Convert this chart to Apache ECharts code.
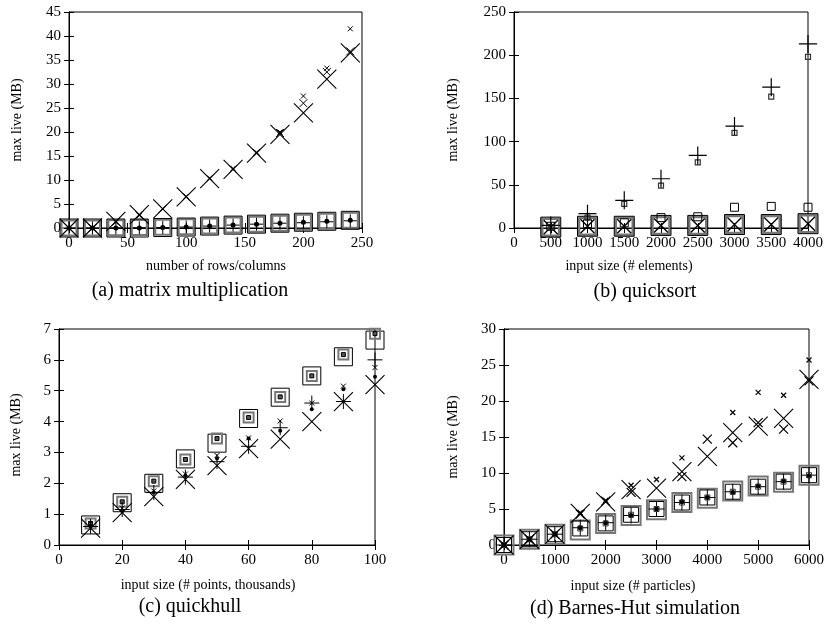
<!DOCTYPE html>
<html>
<head>
<meta charset="utf-8">
<script src="https://cdn.jsdelivr.net/npm/echarts@6/dist/echarts.min.js"></script>
<style>
  html, body { margin: 0; padding: 0; background: #fff; }
  #main { width: 827px; height: 626px; }
</style>
</head>
<body>
<div id="main"></div>
<script>
// (a) matrix multiplication
const aX = [0, 20, 40, 60, 80, 100, 120, 140, 160, 180, 200, 220, 240];
const aBigX = [0, 0, 1.4, 2.8, 4.0, 6.5, 10.3, 12.2, 15.6, 19.5, 24, 31, 36.5];
const aSmallX1 = [0, 0, 1.2, 2.6, 4.0, 6.6, 10.4, 12.4, 15.8, 20, 27.5, 33.3, 41.5];
const aSmallX2 = [0, 0, 1.3, 2.7, 4.0, 6.5, 10.3, 12.3, 15.7, 19.8, 26, 32.5, 36.8];
const aSquare = [0, 0, 0, 0, 0.1, 0.2, 0.4, 0.6, 0.8, 1.0, 1.2, 1.4, 1.6];
const aGraySq = [0, 0, 0.05, 0.1, 0.15, 0.25, 0.4, 0.6, 0.8, 1.0, 1.2, 1.4, 1.6];
const aPlus = [0, 0, 0, 0.05, 0.1, 0.2, 0.4, 0.6, 0.8, 1.0, 1.1, 1.3, 1.5];

// (b) quicksort
const bX = [500, 1000, 1500, 2000, 2500, 3000, 3500, 4000];
const bPlus = [3, 16.6, 32, 57, 84, 118, 163, 213];
const bSmallSq = [1, 12, 28, 49, 76, 110, 152, 198];
const bOpenSq = [2, 5, 6, 12, 13, 24, 25, 24];
const bBigSq = [1, 2, 2, 3, 3, 4, 4, 5];
const bGraySq = [1, 2, 2, 3, 3, 4, 4, 5];
const bBigX = [1, 2, 2, 3, 3, 4, 4, 5];

// (c) quickhull
const cX = [10, 20, 30, 40, 50, 60, 70, 80, 90, 100];
const cBigSq = [0.65, 1.37, 2.0, 2.79, 3.3, 4.1, 4.79, 5.48, 6.1, 6.64];
const cGraySq = [0.7, 1.4, 2.07, 2.77, 3.45, 4.13, 4.8, 5.48, 6.17, 6.85];
const cBigX = [0.55, 1.05, 1.57, 2.13, 2.57, 3.12, 3.43, 4.0, 4.65, 5.2];
const cPlus = [0.6, 1.15, 1.7, 2.2, 2.7, 3.2, 3.8, 4.6, 4.65, 6.0];
const cSmallX = [0.7, 1.2, 1.75, 2.3, 2.9, 3.47, 4.02, 4.6, 5.15, 5.75];
const cDot = [0.6, 1.1, 1.7, 2.25, 2.8, 3.45, 3.7, 4.4, 5.05, 5.45];

// (d) Barnes-Hut simulation
const dX = [0, 500, 1000, 1500, 2000, 2500, 3000, 3500, 4000, 4500, 5000, 5500, 6000];
const dBigX = [0, 0.8, 1.5, 4.4, 6.0, 7.7, 7.9, 10.2, 12.3, 15.6, 16.5, 17.6, 23];
const dMidX = [0, 0.8, 1.5, 4.3, 6.1, 7.3, null, 9.5, 14.7, 14.2, 17, 16.1, 22.8];
const dSmallX = [0, 0.8, 1.5, 4.5, 6.2, 8.3, 9.1, 12.1, null, 18.4, 21.2, 20.8, 25.7];
const dBigSq = [0, 0.8, 1.5, 2.3, 3.0, 4.2, 5.0, 5.9, 6.6, 7.4, 8.1, 8.8, 9.7];
const dGraySq = [0, 0.8, 1.5, 2.1, 3.0, 4.1, 4.9, 5.9, 6.5, 7.5, 8.2, 8.7, 9.7];
const dPlus = [0, 0.8, 1.5, 2.4, 3.1, 4.1, 5.0, 5.9, 6.6, 7.4, 8.1, 8.8, 9.7];
const dDot = [0, 0.8, 1.5, 2.4, 3.1, 4.1, 5.0, 6.0, 6.6, 7.3, 8.2, 8.9, 9.6];

const xNames = ['number of rows/columns', 'input size (# elements)', 'input size (# points, thousands)', 'input size (# particles)'];
const captions = ['(a) matrix multiplication', '(b) quicksort', '(c) quickhull', '(d) Barnes-Hut simulation'];
const yName = 'max live (MB)';

const FONT = 'Liberation Serif';
const X_SYM = 'path://M0,0L10,10M0,10L10,0';
const PLUS_SYM = 'path://M5,0L5,10M0,5L10,5';
const SQ_SYM = 'path://M0,0L10,0L10,10L0,10Z';

const panels = [
    { left: 69, top: 12, width: 293, height: 216, xMax: 250, xInt: 50, yMax: 45, yInt: 5 },
    { left: 514, top: 12, width: 294, height: 216, xMax: 4000, xInt: 500, yMax: 250, yInt: 50 },
    { left: 59, top: 329, width: 316, height: 216, xMax: 100, xInt: 20, yMax: 7, yInt: 1 },
    { left: 504, top: 329, width: 307, height: 216, xMax: 6000, xInt: 1000, yMax: 30, yInt: 5 },
];

const grid = [];
const xAxis = [];
const yAxis = [];
panels.forEach((p, i) => {
    grid.push({ left: p.left, top: p.top, width: p.width, height: p.height, show: true, borderColor: '#000', borderWidth: 1, containLabel: false });
    const tick = { show: true, inside: true, length: 5, lineStyle: { color: '#000' } };
    const lbl = { color: '#000', fontFamily: FONT, fontSize: 15, margin: 8, formatter: (v) => String(v) };
    xAxis.push({ type: 'value', gridIndex: i, min: 0, max: p.xMax, interval: p.xInt, position: 'bottom',
        axisLine: { lineStyle: { color: '#000' } }, axisTick: tick, axisLabel: lbl, splitLine: { show: false } });
    xAxis.push({ type: 'value', gridIndex: i, min: 0, max: p.xMax, interval: p.xInt, position: 'top',
        axisLine: { lineStyle: { color: '#000' } }, axisTick: tick, axisLabel: { show: false }, splitLine: { show: false } });
    yAxis.push({ type: 'value', gridIndex: i, min: 0, max: p.yMax, interval: p.yInt, position: 'left',
        axisLine: { lineStyle: { color: '#000' } }, axisTick: tick, axisLabel: lbl, splitLine: { show: false } });
    yAxis.push({ type: 'value', gridIndex: i, min: 0, max: p.yMax, interval: p.yInt, position: 'right',
        axisLine: { lineStyle: { color: '#000' } }, axisTick: tick, axisLabel: { show: false }, splitLine: { show: false } });
});

const series = [];
const sc = (g, xs, ys, symbol, size, color, width, fill) => {
    series.push({
        type: 'scatter',
        xAxisIndex: g * 2,
        yAxisIndex: g * 2,
        symbol: symbol,
        symbolSize: size,
        silent: true,
        itemStyle: { color: fill || 'rgba(0,0,0,0)', borderColor: color, borderWidth: width, opacity: 1 },
        data: xs.map((x, i) => [x, ys[i]]).filter(d => d[1] !== null),
    });
};

// (a)
sc(0, aX, aGraySq, SQ_SYM, 15, '#777', 2);
sc(0, aX, aSquare, SQ_SYM, 18, '#000', 1);
sc(0, aX, aPlus, PLUS_SYM, 13, '#000', 1);
sc(0, aX, aSquare, 'circle', 5, '#000', 0, '#000');
sc(0, aX, aBigX, X_SYM, 19, '#000', 1.1);
sc(0, aX, aSmallX1, X_SYM, 5, '#000', 1);
sc(0, aX, aSmallX2, X_SYM, 8, '#000', 1);

// (b)
sc(1, bX, bGraySq, SQ_SYM, 17, '#777', 2.5);
sc(1, bX, bBigSq, SQ_SYM, 20, '#000', 1);
sc(1, bX, bBigX, X_SYM, 14, '#000', 1.4);
sc(1, bX, bOpenSq, SQ_SYM, 8, '#000', 1);
sc(1, bX, bSmallSq, SQ_SYM, 5, '#333', 1.2);
sc(1, bX, bPlus, PLUS_SYM, 18, '#000', 1.2);

// (c)
sc(2, cX, cBigSq, SQ_SYM, 18, '#000', 1);
sc(2, cX, cGraySq, SQ_SYM, 10, '#777', 2);
sc(2, cX, cGraySq, SQ_SYM, 4, '#000', 1, '#555');
sc(2, cX, cBigX, X_SYM, 19, '#000', 1.1);
sc(2, cX, cPlus, PLUS_SYM, 15, '#000', 1);
sc(2, cX, cSmallX, X_SYM, 5, '#000', 1);
sc(2, cX, cDot, 'circle', 4, '#000', 0, '#000');

// (d)
sc(3, dX, dGraySq, SQ_SYM, 19, '#777', 2);
sc(3, dX, dBigSq, SQ_SYM, 15, '#000', 1);
sc(3, dX, dPlus, PLUS_SYM, 16, '#000', 1);
sc(3, dX, dDot, 'circle', 5, '#000', 0, '#000');
sc(3, dX, dBigSq, SQ_SYM, 5, '#333', 1);
sc(3, dX, dBigX, X_SYM, 19, '#000', 1.1);
sc(3, dX, dMidX, X_SYM, 9, '#000', 1.2);
sc(3, dX, dSmallX, X_SYM, 5, '#000', 1.2);

const txt = (x, y, text, size, rot) => ({
    type: 'text', x: x, y: y, rotation: rot || 0,
    style: { text: text, fill: '#000', font: size + 'px "' + FONT + '"', align: 'center', verticalAlign: 'middle' },
});

const graphic = [
    txt(216, 266, xNames[0], 14), txt(629, 266, xNames[1], 14),
    txt(208, 585, xNames[2], 14), txt(633, 586, xNames[3], 14),
    txt(190, 291, captions[0], 20), txt(645, 292, captions[1], 20),
    txt(190, 607, captions[2], 20), txt(635, 609, captions[3], 20),
    txt(17, 120, yName, 14, Math.PI / 2), txt(453, 120, yName, 14, Math.PI / 2),
    txt(16, 435, yName, 14, Math.PI / 2), txt(453, 437, yName, 14, Math.PI / 2),
];

const myChart = echarts.init(document.getElementById('main'));
myChart.setOption({
    animation: false,
    backgroundColor: '#fff',
    grid: grid,
    xAxis: xAxis,
    yAxis: yAxis,
    series: series,
    graphic: graphic,
});
</script>
</body>
</html>
